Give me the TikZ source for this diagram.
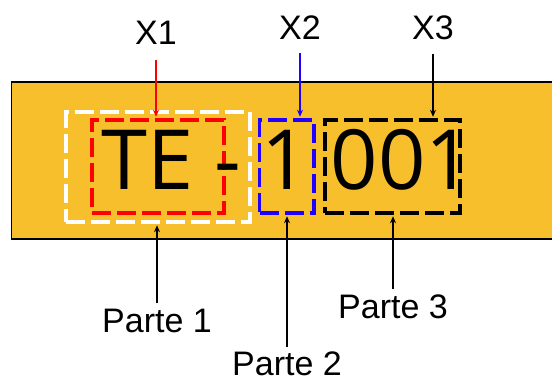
\documentclass[tikz,border=0pt]{standalone}
\usepackage{fontspec}
\setmainfont{Liberation Sans}
\newfontfamily\codefont{Open Sans}
\usetikzlibrary{arrows.meta}
\definecolor{bandcol}{RGB}{247,191,43}
\definecolor{bluecol}{RGB}{32,0,255}
\tikzset{
  code/.style={font=\codefont\fontsize{83}{83}\selectfont, inner sep=0pt, anchor=base},
  lbl/.style={font=\fontsize{34}{34}\selectfont, inner sep=0pt},
  dbox/.style={draw, line width=3.5pt, dash pattern=on 19pt off 6pt, inner sep=0pt, fill=none},
  arr/.style={line width=1.3pt, -{Stealth[length=7pt,width=6pt]}, shorten >=1.5pt},
}
\begin{document}
\begin{tikzpicture}[x=1pt,y=-1pt]
\useasboundingbox (0,0) rectangle (552,381);
\draw[line width=1.6pt, fill=bandcol] (11.5,82) rectangle (600,239);
% dashed boxes
\node[dbox, draw=white, minimum width=184pt, minimum height=110pt] (whitebox) at (158,167) {};
\node[dbox, draw=red, minimum width=132pt, minimum height=93pt] (redbox) at (158,166.5) {};
\node[dbox, draw=bluecol, minimum width=54.5pt, minimum height=93pt] (bluebox) at (286.75,166.5) {};
\node[dbox, draw=black, minimum width=135pt, minimum height=93pt] (blackbox) at (392.5,166.5) {};
% code text
\node[code] (te) at (148,189.5) {TE};
\node[code] (dash) at (228,189.5) {-};
\node[code] (one) at (285,189.5) {1};
\node[code] (num) at (402,189.5) {001};
% top labels
\node[lbl, anchor=base] (x1) at (156,44) {X1};
\node[lbl, anchor=base] (x2) at (300,39) {X2};
\node[lbl, anchor=base] (x3) at (433,39) {X3};
\draw[arr, red, shorten <=16pt] (x1.south) -- (x1.south |- redbox.north);
\draw[arr, bluecol, shorten <=14pt] (x2.south) -- (x2.south |- bluebox.north);
\draw[arr, black, shorten <=14pt] (x3.south) -- (x3.south |- blackbox.north);
% bottom labels
\node[lbl, anchor=base] (p1) at (157,332) {Parte 1};
\node[lbl, anchor=base] (p2) at (287,375) {Parte 2};
\node[lbl, anchor=base] (p3) at (393,318) {Parte 3};
\draw[arr, shorten <=5pt] (p1.north) -- (p1.north |- whitebox.south);
\draw[arr, shorten <=4pt] (p2.north) -- (p2.north |- bluebox.south);
\draw[arr, shorten <=5pt] (p3.north) -- (p3.north |- blackbox.south);
\end{tikzpicture}
\end{document}
